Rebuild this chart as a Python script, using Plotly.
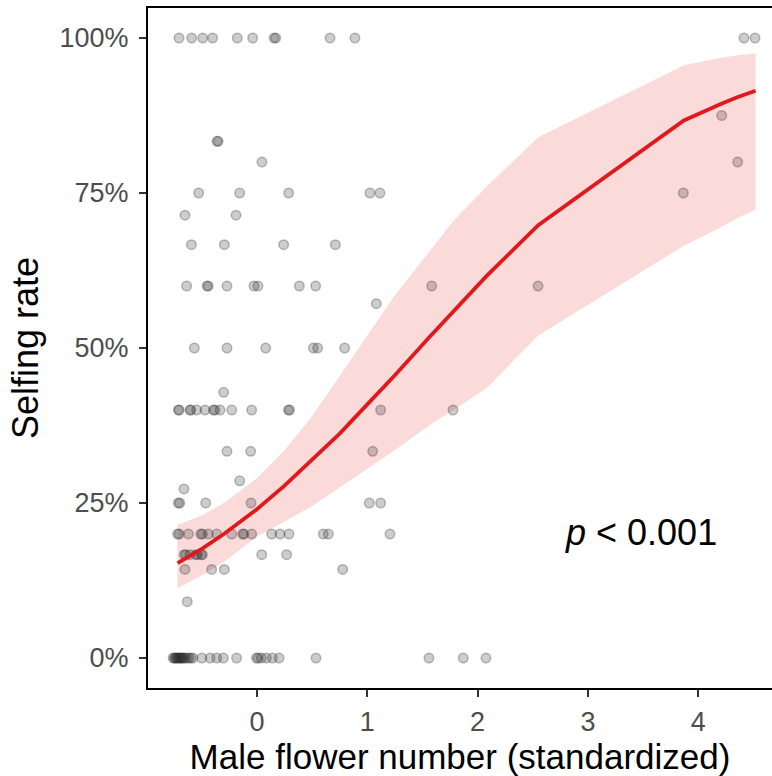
import plotly.graph_objects as go

# Observed plants: standardized male flower number grouped by selfing rate (%)
rate_levels = [100, 87.5, 83.33, 80, 75, 71.43, 66.67, 60, 57.14, 50, 42.86,
               40, 33.33, 28.57, 27.27, 25, 20, 16.67, 14.29, 9.09, 0]

flowers_100 = [-0.707, -0.592, -0.492, -0.402, -0.179, -0.039, 0.155, 0.170,
               0.662, 0.888, 4.415, 4.515]
flowers_87 = [4.213]
flowers_83 = [-0.362, -0.352]
flowers_80 = [0.045, 4.358]
flowers_75 = [-0.529, -0.157, 0.287, 1.024, 1.115, 3.865]
flowers_71 = [-0.653, -0.190]
flowers_67 = [-0.595, -0.296, 0.242, 0.710]
flowers_60 = [-0.638, -0.452, -0.442, -0.272, -0.027, 0.009, 0.384, 0.532,
              1.584, 2.548]
flowers_57 = [1.082]
flowers_50 = [-0.568, -0.272, 0.079, 0.511, 0.550, 0.795]
flowers_43 = [-0.302]
flowers_40 = [-0.713, -0.705, -0.607, -0.600, -0.547, -0.471, -0.396, -0.381,
              -0.335, -0.229, -0.048, 0.285, 0.295, 1.121, 1.777]
flowers_33 = [-0.272, -0.057, 1.049]
flowers_29 = [-0.157]
flowers_27 = [-0.662]
flowers_25 = [-0.713, -0.700, -0.465, -0.054, 1.018, 1.121]
flowers_20 = [-0.720, -0.705, -0.622, -0.510, -0.495, -0.441, -0.365, -0.229,
              -0.130, -0.118, -0.048, 0.133, 0.209, 0.290, 0.601, 0.647, 1.206]
flowers_17 = [-0.660, -0.645, -0.607, -0.555, -0.540, -0.505, -0.495, 0.043,
              0.269]
flowers_14 = [-0.653, -0.411, -0.296, 0.777]
flowers_9 = [-0.632]
flowers_0 = [-0.76, -0.75, -0.74, -0.73, -0.72, -0.71, -0.70, -0.69, -0.68,
             -0.67, -0.66, -0.64, -0.62, -0.60, -0.58, -0.50, -0.425, -0.365,
             -0.305, -0.185, -0.005, 0.01, 0.04, 0.085, 0.14, 0.20, 0.535,
             1.559, 1.870, 2.076]

flower_groups = [flowers_100, flowers_87, flowers_83, flowers_80, flowers_75,
                 flowers_71, flowers_67, flowers_60, flowers_57, flowers_50,
                 flowers_43, flowers_40, flowers_33, flowers_29, flowers_27,
                 flowers_25, flowers_20, flowers_17, flowers_14, flowers_9,
                 flowers_0]

# Fitted binomial model: predicted selfing rate with 95% confidence band (%)
fit_x = [-0.72, -0.5, -0.3, 0.0, 0.25, 0.5, 0.75, 1.0, 1.25, 1.56, 1.78,
         2.08, 2.55, 3.87, 4.21, 4.36, 4.52]
fit_pct = [15.3, 17.6, 20.0, 24.0, 27.8, 31.9, 36.2, 40.9, 45.6, 51.7, 55.9,
           61.6, 69.8, 86.7, 89.4, 90.5, 91.5]
ci_lower = [11.3, 13.3, 15.5, 19.6, 22.0, 24.5, 27.5, 30.5, 33.5, 37.5, 40.0,
            43.5, 52.0, 66.5, 69.5, 71.0, 72.3]
ci_upper = [21.5, 23.0, 25.0, 29.0, 33.5, 39.0, 45.5, 52.0, 58.5, 65.5, 70.5,
            76.0, 84.0, 95.6, 96.8, 97.2, 97.5]

y_ticks = [0, 25, 50, 75, 100]
y_tick_text = ["0%", "25%", "50%", "75%", "100%"]
x_ticks = [0, 1, 2, 3, 4]

pts_x, pts_y = [], []
for level, group in zip(rate_levels, flower_groups):
    pts_x.extend(group)
    pts_y.extend([level] * len(group))

fig = go.Figure()

# confidence ribbon
fig.add_trace(go.Scatter(
    x=fit_x + fit_x[::-1], y=ci_upper + ci_lower[::-1],
    fill="toself", fillcolor="rgba(232,60,60,0.19)",
    line=dict(width=0), mode="lines", hoverinfo="skip", showlegend=False))

# raw observations
fig.add_trace(go.Scatter(
    x=pts_x, y=pts_y, mode="markers", showlegend=False,
    marker=dict(size=9.5, color="rgba(40,40,40,0.23)",
                line=dict(width=1.5, color="rgba(40,40,40,0.3)"))))

# fitted curve
fig.add_trace(go.Scatter(
    x=fit_x, y=fit_pct, mode="lines", showlegend=False,
    line=dict(color="#E0191C", width=3.8)))

fig.add_annotation(
    x=3.48, y=20.3, xref="x", yref="y", showarrow=False,
    text="<i>p</i> < 0.001", font=dict(size=36, color="black"),
    xanchor="center", yanchor="middle")

axis_font = "Liberation Sans, Arial, sans-serif"

fig.update_layout(
    width=772, height=776,
    margin=dict(l=148, r=0, t=8, b=88),
    plot_bgcolor="white", paper_bgcolor="white",
    font=dict(family=axis_font),
    xaxis=dict(
        range=[-0.988, 4.669], tickvals=x_ticks,
        showgrid=False, zeroline=False,
        showline=True, linecolor="black", linewidth=2, mirror=True,
        ticks="outside", ticklen=7, tickwidth=2, tickcolor="#333333",
        ticklabelstandoff=2,
        tickfont=dict(size=27, color="#4D4D4D"),
        title=dict(text="Male flower number (standardized)",
                   font=dict(size=35, color="black"), standoff=8)),
    yaxis=dict(
        range=[-4.84, 104.84], tickvals=y_ticks, ticktext=y_tick_text,
        showgrid=False, zeroline=False,
        showline=True, linecolor="black", linewidth=2,
        ticks="outside", ticklen=7, tickwidth=2, tickcolor="#333333",
        ticklabelstandoff=5,
        tickfont=dict(size=27, color="#4D4D4D"),
        title=dict(text="Selfing rate",
                   font=dict(size=36, color="black"), standoff=10)),
)

fig.write_html("out.html")
